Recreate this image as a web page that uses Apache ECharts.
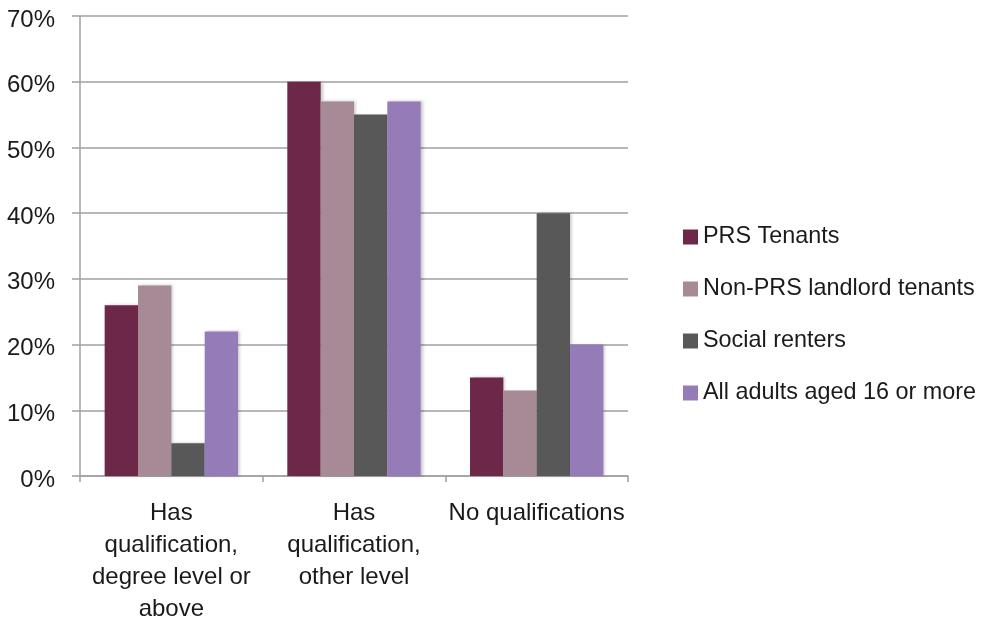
<!DOCTYPE html>
<html>
<head>
<meta charset="utf-8">
<script src="https://cdn.jsdelivr.net/npm/echarts@6/dist/echarts.min.js"></script>
<style>
  html, body { margin: 0; padding: 0; background: #ffffff; }
  #chart { width: 985px; height: 621px; }
</style>
</head>
<body>
<div id="chart"></div>
<script>
// Qualification groups shown along the x axis
const categories = [
  'Has\nqualification,\ndegree level or\nabove',
  'Has\nqualification,\nother level',
  'No qualifications'
];

// Share of each group (percent)
const prsTenants = [26, 60, 15];
const nonPrsTenants = [29, 57, 13];
const socialRenters = [5, 55, 40];
const allAdults = [22, 57, 20];

const seriesNames = [
  'PRS Tenants',
  'Non-PRS landlord tenants',
  'Social renters',
  'All adults aged 16 or more'
];
const seriesColors = ['#6d2749', '#a68b97', '#585858', '#957cb9'];
const seriesValues = [prsTenants, nonPrsTenants, socialRenters, allAdults];

const FONT = 'Liberation Sans, Arial, sans-serif';
const GRID_GREY = '#a0a0a0';
const TEXT_COLOR = '#1a1a1a';

const chart = echarts.init(document.getElementById('chart'));

chart.setOption({
  animation: false,
  backgroundColor: '#ffffff',
  textStyle: { fontFamily: FONT },
  grid: {
    left: 80, right: 357, top: 16, bottom: 145,
    containLabel: false,
    outerBoundsMode: 'none'
  },
  legend: {
    orient: 'vertical',
    left: 678,
    top: 220,
    itemWidth: 15,
    itemHeight: 15,
    itemGap: 28,
    icon: 'rect',
    textStyle: { fontFamily: FONT, fontSize: 23.4, color: TEXT_COLOR, lineHeight: 24 },
    data: seriesNames
  },
  xAxis: {
    type: 'category',
    data: categories,
    axisLine: { show: true, lineStyle: { color: GRID_GREY, width: 1.5 } },
    axisTick: { show: true, length: 6, alignWithLabel: false, lineStyle: { color: GRID_GREY, width: 1.5 } },
    axisLabel: {
      interval: 0,
      margin: 21,
      fontFamily: FONT,
      fontSize: 24,
      lineHeight: 32,
      color: TEXT_COLOR,
      align: 'center'
    },
    splitLine: { show: false }
  },
  yAxis: {
    type: 'value',
    min: 0,
    max: 70,
    interval: 10,
    axisLine: { show: true, lineStyle: { color: GRID_GREY, width: 1.5 } },
    axisTick: { show: true, length: 8, lineStyle: { color: GRID_GREY, width: 1.5 } },
    axisLabel: {
      margin: 25,
      fontFamily: FONT,
      fontSize: 24,
      color: TEXT_COLOR,
      formatter: v => '{p|' + v + '%}',
      rich: {
        p: { fontFamily: FONT, fontSize: 24, color: TEXT_COLOR, padding: [8, 0, 0, 0] }
      }
    },
    splitLine: { show: true, lineStyle: { color: GRID_GREY, width: 1.5 } }
  },
  series: seriesNames.map((name, i) => ({
    name: name,
    type: 'bar',
    data: seriesValues[i],
    barGap: '0%',
    barCategoryGap: '27%',
    itemStyle: {
      color: seriesColors[i],
      shadowColor: 'rgba(0,0,0,0.22)',
      shadowBlur: 3,
      shadowOffsetX: 2,
      shadowOffsetY: 0
    }
  }))
});
</script>
</body>
</html>
